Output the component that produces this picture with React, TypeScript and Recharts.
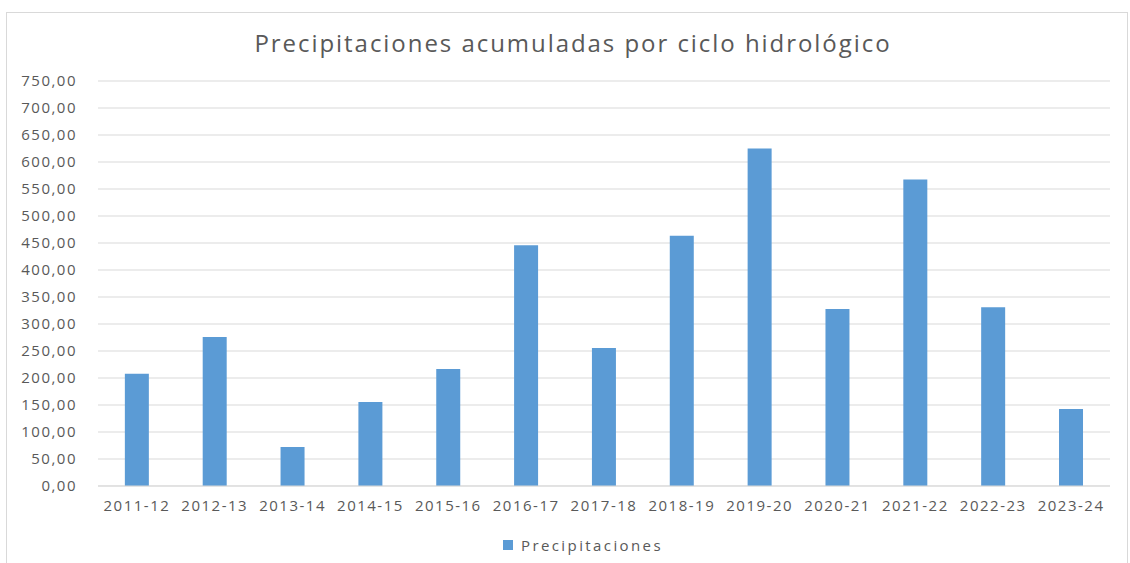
import React from 'react'
import { Bar, BarChart, CartesianGrid, XAxis, YAxis } from 'recharts'

const CYCLES = [
  '2011-12', '2012-13', '2013-14', '2014-15', '2015-16', '2016-17', '2017-18',
  '2018-19', '2019-20', '2020-21', '2021-22', '2022-23', '2023-24',
]

const PRECIP = [208, 276, 72, 155.5, 216.5, 446, 255.5, 463.5, 625, 328, 567.5, 331, 142.5]

const Y_TICKS = [0, 50, 100, 150, 200, 250, 300, 350, 400, 450, 500, 550, 600, 650, 700, 750]

const BAR_COLOR = '#5b9bd5'
const TEXT_COLOR = '#595959'
const GRID_COLOR = '#d9d9d9'
const FONT = '"Open Sans", sans-serif'

const formatTick = (v: number) => v.toFixed(2).replace('.', ',')

const data = CYCLES.map((c, i) => ({ ciclo: c, value: PRECIP[i] }))

export default function App() {
  return (
    <div
      style={{
        position: 'absolute',
        left: 0,
        top: 0,
        width: 1130,
        height: 563,
        background: '#fff',
        overflow: 'hidden',
        fontFamily: FONT,
      }}
    >
      {/* chart frame */}
      <div
        style={{
          position: 'absolute',
          left: 6,
          top: 12,
          width: 1120,
          height: 600,
          border: `1px solid ${GRID_COLOR}`,
        }}
      />
      <div
        style={{
          position: 'absolute',
          left: 0,
          top: 23,
          width: 1146,
          textAlign: 'center',
          fontSize: 24,
          letterSpacing: 1.95,
          color: TEXT_COLOR,
          lineHeight: '40px',
        }}
      >
        Precipitaciones acumuladas por ciclo hidrológico
      </div>

      <div style={{ position: 'absolute', left: 0, top: 0 }}>
        <BarChart
          width={1130}
          height={563}
          data={data}
          margin={{ top: 81, right: 20, bottom: 47, left: 0 }}
          barCategoryGap="34.5%"
        >
          <CartesianGrid vertical={false} stroke={GRID_COLOR} />
          <XAxis
            dataKey="ciclo"
            axisLine={{ stroke: GRID_COLOR }}
            tickLine={false}
            tickSize={0}
            tickMargin={14}
            height={30}
            interval={0}
            tick={{ fill: TEXT_COLOR, fontSize: 15, fontFamily: FONT, letterSpacing: 1.5 }}
          />
          <YAxis
            domain={[0, 750]}
            ticks={Y_TICKS}
            tickFormatter={formatTick}
            axisLine={false}
            tickLine={false}
            tickSize={0}
            tickMargin={21}
            width={98}
            interval={0}
            tick={{ fill: TEXT_COLOR, fontSize: 15, fontFamily: FONT, letterSpacing: 1.5 }}
          />
          <Bar dataKey="value" name="Precipitaciones" fill={BAR_COLOR} isAnimationActive={false} />
        </BarChart>
      </div>

      {/* legend */}
      <div
        style={{
          position: 'absolute',
          left: 503,
          top: 535,
          display: 'flex',
          alignItems: 'center',
          gap: 8,
          fontSize: 15,
          letterSpacing: 2.4,
          color: TEXT_COLOR,
        }}
      >
        <div style={{ width: 10, height: 10, background: BAR_COLOR }} />
        <span>Precipitaciones</span>
      </div>
    </div>
  )
}
